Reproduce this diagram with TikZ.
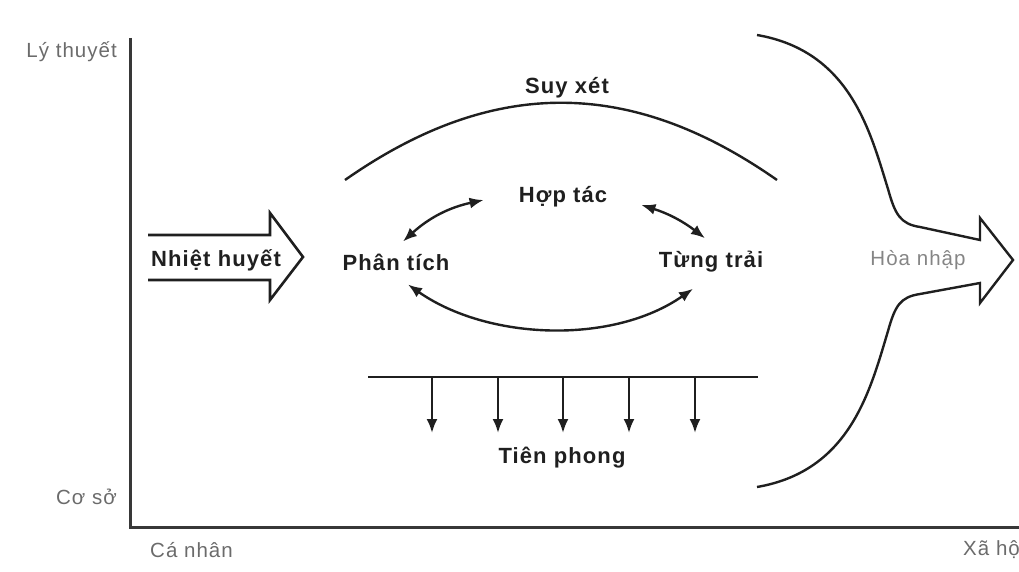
\documentclass[tikz,border=0pt]{standalone}
\usepackage{fontspec}
\setmainfont{Liberation Sans}[LetterSpace=5]
\usetikzlibrary{arrows.meta}
\tikzset{
  lbl/.style = {font=\fontsize{22}{24}\selectfont\bfseries, text=black!88, inner sep=2pt},
  axlbl/.style = {font=\fontsize{20.5}{24}\selectfont, text=black!58, inner sep=2pt},
  curve/.style = {line width=2.4pt, color=black!88},
  dbl/.style = {curve, {Latex[length=14pt,width=11pt]}-{Latex[length=14pt,width=11pt]}},
  down/.style = {curve, -{Latex[length=14pt,width=11pt]}}
}
\begin{document}
\begin{tikzpicture}[x=1pt,y=1pt]
\useasboundingbox (0,0) rectangle (1019,571);
\draw [line width=3pt, color=black!78] (130,533) -- (130,44) -- (1030,44);
\node (lythuyet) [axlbl, anchor=east, at = {(119,519)}] {Lý thuyết};
\node (coso) [axlbl, anchor=east, at = {(119,74)}] {Cơ sở};
\node (canhan) [axlbl, anchor=west, at = {(148,21)}] {Cá nhân};
\node (xahoi) [axlbl, anchor=west, at = {(961,21)}] {Xã hội};
\draw [curve, line width=2.6pt] (148,336) -- (270,336) -- (270,358) -- (303,314) -- (270,271) -- (270,291) -- (148,291);
\node (nhiethuyet) [lbl, at = {(216,311)}] {Nhiệt huyết};
\node (phantich) [lbl, at = {(396,309)}] {Phân tích};
\node (tungtrai) [lbl, at = {(711,309)}] {Từng trải};
\node (hoptac) [lbl, at = {(563,374)}] {Hợp tác};
\node (suyxet) [lbl, at = {(567,483)}] {Suy xét};
\draw [curve] (345,391) .. controls (492,494) and (630,494) .. (777,391);
\draw [dbl] ([shift={(7,10)}]phantich.north) to [bend left=15] ([shift={(-33,-3)}]hoptac.west);
\draw [dbl] ([shift={(32,-8)}]hoptac.east) to [bend left=10] ([shift={(-6,11)}]tungtrai.north);
\draw [dbl] ([shift={(12,-12)}]phantich.south) .. controls +(80,-56) and +(-80,-56) .. ([shift={(-18,-14)}]tungtrai.south);
\draw [curve] (368,194) -- (758,194);
\foreach \x in {432,498,563,629,695}
  \draw [down] (\x,194) -- (\x,138);
\node (tienphong) [lbl, at = {(562,113)}] {Tiên phong};
\draw [curve] (757,536) .. controls (850,520) and (870,440) .. (888,382) .. controls (895,357) and (900,347) .. (920,344) -- (980,331) -- (980,353) -- (1013,311) -- (980,268) -- (980,288) -- (920,277) .. controls (900,274) and (895,265) .. (888,240) .. controls (870,180) and (850,100) .. (757,84);
\node (hoanhap) [axlbl, text=black!48, at = {(918,311)}] {Hòa nhập};
\end{tikzpicture}
\end{document}
